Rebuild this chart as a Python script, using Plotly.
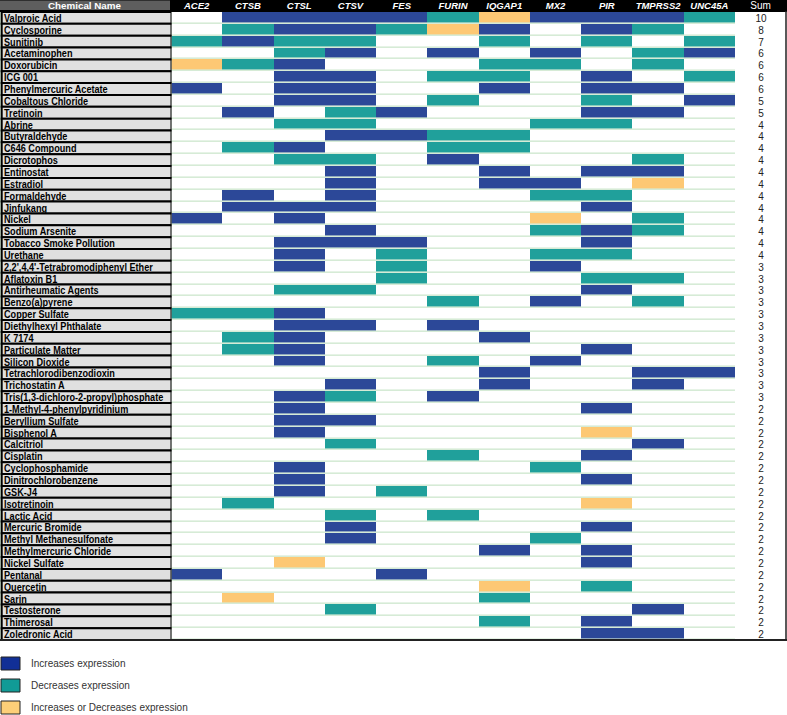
import json
import plotly.graph_objects as go

genes = ["ACE2", "CTSB", "CTSL", "CTSV", "FES", "FURIN", "IQGAP1", "MX2", "PIR", "TMPRSS2", "UNC45A"]

chemicals = [
    "Valproic Acid", "Cyclosporine", "Sunitinib", "Acetaminophen", "Doxorubicin", "ICG 001",
    "Phenylmercuric Acetate", "Cobaltous Chloride", "Tretinoin", "Abrine", "Butyraldehyde",
    "C646 Compound", "Dicrotophos", "Entinostat", "Estradiol", "Formaldehyde", "Jinfukang",
    "Nickel", "Sodium Arsenite", "Tobacco Smoke Pollution", "Urethane",
    "2,2',4,4'-Tetrabromodiphenyl Ether", "Aflatoxin B1", "Antirheumatic Agents",
    "Benzo(a)pyrene", "Copper Sulfate", "Diethylhexyl Phthalate", "K 7174",
    "Particulate Matter", "Silicon Dioxide", "Tetrachlorodibenzodioxin", "Trichostatin A",
    "Tris(1,3-dichloro-2-propyl)phosphate", "1-Methyl-4-phenylpyridinium", "Beryllium Sulfate",
    "Bisphenol A", "Calcitriol", "Cisplatin", "Cyclophosphamide", "Dinitrochlorobenzene",
    "GSK-J4", "Isotretinoin", "Lactic Acid", "Mercuric Bromide", "Methyl Methanesulfonate",
    "Methylmercuric Chloride", "Nickel Sulfate", "Pentanal", "Quercetin", "Sarin",
    "Testosterone", "Thimerosal", "Zoledronic Acid",
]

# 0 = none, 1 = increases, 2 = decreases, 3 = increases or decreases
interactions = [
    [0, 1, 1, 1, 1, 2, 3, 1, 1, 1, 2],
    [0, 2, 1, 1, 2, 3, 1, 0, 1, 2, 0],
    [2, 1, 2, 2, 0, 0, 2, 0, 2, 0, 2],
    [0, 0, 2, 1, 0, 1, 0, 1, 0, 2, 1],
    [3, 2, 1, 0, 0, 0, 2, 2, 0, 2, 0],
    [0, 0, 1, 1, 0, 2, 2, 0, 1, 0, 2],
    [1, 0, 1, 1, 0, 0, 1, 0, 1, 1, 0],
    [0, 0, 1, 1, 0, 2, 0, 0, 2, 0, 1],
    [0, 1, 0, 2, 1, 0, 0, 0, 1, 1, 0],
    [0, 0, 2, 2, 0, 0, 0, 2, 2, 0, 0],
    [0, 0, 0, 1, 1, 2, 2, 0, 0, 0, 0],
    [0, 2, 1, 0, 0, 2, 2, 0, 0, 0, 0],
    [0, 0, 2, 2, 0, 1, 0, 0, 0, 2, 0],
    [0, 0, 0, 1, 0, 0, 1, 0, 1, 1, 0],
    [0, 0, 0, 1, 0, 0, 1, 1, 0, 3, 0],
    [0, 1, 0, 1, 0, 0, 0, 2, 2, 0, 0],
    [0, 1, 1, 1, 0, 0, 0, 0, 1, 0, 0],
    [1, 0, 1, 0, 0, 0, 0, 3, 0, 2, 0],
    [0, 0, 0, 1, 0, 0, 0, 2, 1, 2, 0],
    [0, 0, 1, 1, 1, 0, 0, 0, 1, 0, 0],
    [0, 0, 1, 0, 2, 0, 0, 2, 2, 0, 0],
    [0, 0, 1, 0, 2, 0, 0, 1, 0, 0, 0],
    [0, 0, 0, 0, 2, 0, 0, 0, 2, 2, 0],
    [0, 0, 2, 2, 0, 0, 0, 0, 1, 0, 0],
    [0, 0, 0, 0, 0, 2, 0, 1, 0, 2, 0],
    [2, 2, 1, 0, 0, 0, 0, 0, 0, 0, 0],
    [0, 0, 1, 1, 0, 1, 0, 0, 0, 0, 0],
    [0, 2, 1, 0, 0, 0, 1, 0, 0, 0, 0],
    [0, 2, 1, 0, 0, 0, 0, 0, 1, 0, 0],
    [0, 0, 1, 0, 0, 2, 0, 1, 0, 0, 0],
    [0, 0, 0, 0, 0, 0, 1, 0, 0, 1, 1],
    [0, 0, 0, 1, 0, 0, 1, 0, 0, 1, 0],
    [0, 0, 1, 2, 0, 1, 0, 0, 0, 0, 0],
    [0, 0, 1, 0, 0, 0, 0, 0, 1, 0, 0],
    [0, 0, 1, 1, 0, 0, 0, 0, 0, 0, 0],
    [0, 0, 1, 0, 0, 0, 0, 0, 3, 0, 0],
    [0, 0, 0, 2, 0, 0, 0, 0, 0, 1, 0],
    [0, 0, 0, 0, 0, 2, 0, 0, 1, 0, 0],
    [0, 0, 1, 0, 0, 0, 0, 2, 0, 0, 0],
    [0, 0, 1, 0, 0, 0, 0, 0, 1, 0, 0],
    [0, 0, 1, 0, 2, 0, 0, 0, 0, 0, 0],
    [0, 2, 0, 0, 0, 0, 0, 0, 3, 0, 0],
    [0, 0, 0, 2, 0, 2, 0, 0, 0, 0, 0],
    [0, 0, 0, 1, 0, 0, 0, 0, 1, 0, 0],
    [0, 0, 0, 1, 0, 0, 0, 2, 0, 0, 0],
    [0, 0, 0, 0, 0, 0, 1, 0, 1, 0, 0],
    [0, 0, 3, 0, 0, 0, 0, 0, 1, 0, 0],
    [1, 0, 0, 0, 1, 0, 0, 0, 0, 0, 0],
    [0, 0, 0, 0, 0, 0, 3, 0, 2, 0, 0],
    [0, 3, 0, 0, 0, 0, 2, 0, 0, 0, 0],
    [0, 0, 0, 2, 0, 0, 0, 0, 0, 1, 0],
    [0, 0, 0, 0, 0, 0, 2, 0, 1, 0, 0],
    [0, 0, 0, 0, 0, 0, 0, 0, 1, 1, 0],
]

sums = [10, 8, 7, 6, 6, 6, 6, 5, 5, 4, 4, 4, 4, 4, 4, 4, 4, 4, 4, 4, 4,
        3, 3, 3, 3, 3, 3, 3, 3, 3, 3, 3, 3,
        2, 2, 2, 2, 2, 2, 2, 2, 2, 2, 2, 2, 2, 2, 2, 2, 2, 2, 2, 2]

legend_labels = ["Increases expression", "Decreases expression", "Increases or Decreases expression"]

BLUE = "#2c4898"
TEAL = "#20a09b"
YELLOW = "#fdc874"
SEP = "#d6ebd6"
legend_colors = ["#112f96", "#119b96", "#fdcf78"]

W, H = 787, 715
def fx(p):
    return p / W
def fy(p):
    return 1 - p / H

ARIAL = "Liberation Sans, Arial, sans-serif"

n = len(chemicals)
fig = go.Figure()

# label boxes
fig.add_trace(go.Bar(
    x=[1] * n, y=chemicals, orientation="h", xaxis="x3", yaxis="y", width=1,
    marker=dict(color="#e0e0e0", line=dict(color="black", width=2)),
    hoverinfo="skip", showlegend=False,
))

# main interaction grid
fig.add_trace(go.Heatmap(
    z=interactions, x=genes, y=chemicals, xaxis="x", yaxis="y",
    colorscale=[[0, "white"], [0.25, "white"], [0.25, BLUE], [0.5, BLUE],
                [0.5, TEAL], [0.75, TEAL], [0.75, YELLOW], [1, YELLOW]],
    zmin=-0.5, zmax=3.5, showscale=False, xgap=0, ygap=1.6, hoverinfo="skip",
))

# sum column
fig.add_trace(go.Heatmap(
    z=[[s] for s in sums], x=["Sum"], y=chemicals, xaxis="x2", yaxis="y",
    colorscale=[[0, "white"], [1, "white"]], showscale=False,
    text=[[str(s)] for s in sums], texttemplate="%{text}",
    textfont=dict(family=ARIAL, size=10, color="#222"), hoverinfo="skip",
))

annotations = []
for c in chemicals:
    annotations.append(dict(
        x=fx(2), xref="paper", y=c, yref="y", xanchor="left", yanchor="middle",
        align="left", text=c, showarrow=False,
        font=dict(family=ARIAL, size=11, color="black", weight="bold"),
    ))
annotations.append(dict(
    x=fx(85), xref="paper", y=fy(5.2), yref="paper", xanchor="center", yanchor="middle",
    text="Chemical Name", showarrow=False,
    font=dict(family=ARIAL, size=9.8, color="white", weight="bold"),
))

shapes = [
    dict(type="rect", xref="paper", yref="paper", x0=0, x1=1, y0=fy(12), y1=1,
         fillcolor="black", line=dict(width=0), layer="below"),
    dict(type="rect", xref="paper", yref="paper", x0=0, x1=fx(170), y0=fy(10), y1=fy(0.5),
         fillcolor="#5e5e5e", line=dict(width=0), layer="above"),
    dict(type="line", xref="paper", yref="paper", x0=0, x1=1, y0=fy(640), y1=fy(640),
         line=dict(color="#222", width=2), layer="above"),
    dict(type="line", xref="paper", yref="paper", x0=fx(786), x1=fx(786), y0=fy(640), y1=fy(11),
         line=dict(color="#222", width=1.5), layer="above"),
]

legend_top = [657, 679, 701]
for lab, col, t in zip(legend_labels, legend_colors, legend_top):
    shapes.append(dict(type="rect", xref="paper", yref="paper", x0=fx(1), x1=fx(20),
                       y0=fy(t + 13), y1=fy(t), fillcolor=col,
                       line=dict(color="#222", width=1)))
    annotations.append(dict(
        x=fx(29), xref="paper", y=fy(t + 6.5), yref="paper", xanchor="left", yanchor="middle",
        text=lab, showarrow=False, font=dict(family=ARIAL, size=10, color="#333"),
    ))

fig.update_layout(
    width=W, height=H, margin=dict(l=0, r=0, t=0, b=0),
    paper_bgcolor="white", plot_bgcolor=SEP,
    xaxis=dict(domain=[fx(171), fx(735)], side="top", anchor="y", showgrid=False,
               zeroline=False, ticks="", showline=False, fixedrange=True,
               tickfont=dict(family=ARIAL, size=9.5, color="white", weight="bold", style="italic")),
    xaxis2=dict(domain=[fx(735), fx(786)], side="top", anchor="y", showgrid=False,
                zeroline=False, ticks="", showline=False, fixedrange=True,
                tickfont=dict(family=ARIAL, size=10, color="white")),
    xaxis3=dict(domain=[0, fx(171.5)], range=[-0.01, 1.0], visible=False, fixedrange=True),
    yaxis=dict(domain=[fy(640), fy(12)], range=[n - 0.5, -0.5], visible=False, fixedrange=True),
    annotations=annotations, shapes=shapes, showlegend=False,
)

# narrow the row labels (the original uses a condensed bold face)
post = """
document.body.style.margin='0';
document.body.style.overflow='hidden';
var names = new Set(%s);
document.querySelectorAll('text.annotation-text').forEach(function(t){
  if (names.has(t.textContent)) {
    var w = t.getComputedTextLength();
    t.setAttribute('textLength', (w*0.83).toFixed(1));
    t.setAttribute('lengthAdjust', 'spacingAndGlyphs');
  }
});
document.querySelectorAll('g.textpoint text, text.textpoint').forEach(function(t){
  var w = t.getComputedTextLength();
  t.setAttribute('textLength', (w*0.85).toFixed(1));
  t.setAttribute('lengthAdjust', 'spacingAndGlyphs');
});
""" % json.dumps(chemicals)

fig.write_html("out.html", post_script=post, config={"displayModeBar": False})
